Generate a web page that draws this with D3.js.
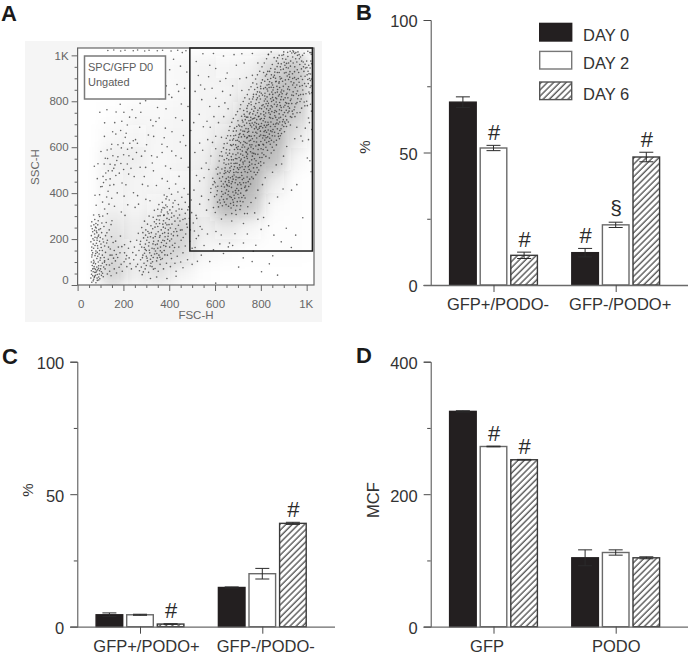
<!DOCTYPE html>
<html><head><meta charset="utf-8">
<script src="https://cdn.jsdelivr.net/npm/d3@7"></script>
<style>html,body{margin:0;padding:0;background:#fff}svg{display:block}text{font-family:"Liberation Sans",Arial,sans-serif}</style>
</head><body><svg id="c" width="689" height="657"></svg>
<script>
// ---- bar panels ----
const days = ["DAY 0","DAY 2","DAY 6"];
const groupsB = ["GFP+/PODO-","GFP-/PODO+"];
const valuesB = [[69,51.7,11.2],[12.2,22.7,48.3]];
const errorsB = [[2,1,1.2],[1.6,1,1.8]];
const marksB  = [["","#","#"],["#","§","#"]];
const groupsC = ["GFP+/PODO+","GFP-/PODO-"];
const valuesC = [[4.5,4.5,1],[14.8,20,39]];
const errorsC = [[0.7,0.2,0.1],[0.2,2,0.4]];
const marksC  = [["","","#"],["","","#"]];
const groupsD = ["GFP","PODO"];
const valuesD = [[325,272,252],[104,112,104]];
const errorsD = [[1,0.5,0.5],[12,4,1.5]];
const marksD  = [["","#","#"],["","",""]];
const ticksPct = [0,50,100], minorPct = [25,75];
const ticksMcf = [0,200,400], minorMcf = [100,300];
// ---- panel A: hand-estimated subset of the flow-cytometry events [FSC, SSC] ----
const lowLeftEvents = [[62,12],[70,25],[66,40],[75,55],[85,30],[95,48],[60,62],[72,72],[88,66],[104,58],[112,36],[120,70],[64,85],[78,92],[92,84],[108,95],[126,88],[140,60],[70,108],[84,115],[98,108],[62,122],[116,120],[134,112],[150,95],[160,70],[66,140],[80,148],[94,135],[108,150],[122,142],[142,130],[175,120],[190,90],[62,165],[76,172],[88,160],[102,178],[118,170],[135,165],[160,150],[205,140],[58,188],[72,195],[85,205],[96,190],[110,200],[130,195],[155,185],[225,118],[60,215],[74,222],[82,235],[92,218],[105,228],[122,215],[148,210],[178,165],[64,245],[78,252],[88,262],[100,245],[115,255],[138,240],[62,275],[75,285],[90,280],[106,270],[125,272],[68,18],[80,10],[92,22],[74,38],[86,46],[100,70],[68,58],[78,68],[84,78],[96,62],[72,80],[60,100],[90,100],[102,84],[114,78],[130,48],[146,40],[170,52],[195,60],[215,80],[235,70],[165,105],[185,140],[205,175],[222,160],[245,110],[255,80],[150,130],[118,105],[76,128],[88,125],[70,160],[82,182],[76,208],[90,212],[84,228],[66,232],[96,150],[108,130],[66,70],[80,55],[92,35],[104,42],[78,42],[86,20],[58,30],[72,100],[86,142],[62,150],[74,238],[80,268],[96,298],[70,305],[110,300],[130,310],[150,280],[85,195],[68,178],[100,118],[73,33],[97,27],[61,47],[83,61],[109,51],[69,95],[91,73],[117,99],[63,131],[79,137],[103,163],[87,171],[67,201],[99,207],[81,248],[71,262],[127,183],[143,157],[169,133],[193,167],[211,113],[139,87],[157,117],[181,77],[203,101],[229,93],[241,141],[59,257],[93,241],[113,187],[128,227],[146,263],[166,191],[187,213],[214,128],[231,189]];
const midEvents = [[270,62],[282,45],[295,70],[310,55],[325,80],[290,95],[305,105],[320,95],[338,72],[352,60],[275,110],[285,130],[300,125],[315,140],[330,120],[345,105],[360,90],[375,70],[268,150],[280,165],[295,155],[310,170],[325,160],[340,148],[355,130],[370,115],[388,95],[405,80],[275,190],[288,205],[302,195],[318,210],[332,190],[348,178],[362,165],[378,150],[392,130],[410,115],[425,95],[285,228],[298,240],[312,225],[328,245],[342,222],[358,208],[372,195],[388,182],[402,165],[418,148],[435,125],[450,100],[305,265],[320,258],[335,275],[350,255],[365,240],[380,228],[395,212],[410,200],[425,182],[442,165],[460,140],[330,295],[345,285],[360,302],[375,280],[390,262],[405,248],[420,232],[436,215],[452,195],[470,170],[350,330],[365,318],[380,335],[395,310],[410,295],[425,278],[440,260],[456,240],[472,222],[490,190],[370,360],[385,348],[400,370],[415,340],[430,322],[445,305],[460,285],[476,265],[492,240],[390,385],[410,395],[425,368],[440,350],[455,330],[470,312],[488,290],[438,405],[455,382],[470,360],[485,340],[498,315],[465,420],[482,395],[496,370],[300,85],[318,112],[336,135],[350,160],[366,185],[382,210],[396,240],[374,252],[352,232],[330,205],[312,185],[296,178],[340,175],[360,215],[384,270],[400,285],[378,305],[390,290],[392,318],[372,265],[358,268],[338,252],[322,228],[306,208],[292,138],[348,118],[368,142],[385,168],[402,192],[418,215],[428,245],[412,265],[396,225],[376,172],[352,192],[334,158],[322,128],[300,150],[278,78],[262,90],[255,130],[248,165],[258,195],[265,225],[280,250],[292,278],[312,300],[335,325],[355,350],[378,392],[400,420],[428,440],[505,270],[520,290],[535,255],[510,235],[528,215],[500,160],[480,110],[460,75],[430,60],[500,90],[540,130],[390,28],[430,38],[345,35],[318,28],[303,117],[327,101],[291,163],[346,137],[317,83],[363,111],[381,131],[339,211],[307,233],[371,224],[393,199],[414,173],[357,283],[383,247],[409,222],[367,327],[391,341],[376,303],[421,301],[403,327],[447,279],[433,233],[461,207],[417,357],[386,375],[443,331],[469,289],[399,263],[351,301],[329,179],[313,151],[283,119],[297,217],[273,177],[343,267],[361,149],[379,193],[407,137],[331,69],[287,57],[359,121],[423,163],[449,239],[411,313],[437,292],[479,251],[481,327],[373,337]];
const upperLeftEvents = [[93,306],[118,331],[137,352],[81,347],[109,361],[127,383],[149,378],[161,343],[191,318],[207,303],[76,391],[101,428],[113,446],[133,408],[158,437],[173,401],[203,387],[219,349],[251,338],[266,352],[86,463],[111,473],[124,458],[151,497],[167,477],[194,444],[211,436],[244,402],[262,389],[298,373],[316,367],[73,517],[89,528],[116,527],[131,551],[158,508],[171,542],[201,503],[223,483],[247,472],[283,438],[307,431],[344,433],[102,581],[129,588],[146,592],[176,558],[191,597],[224,563],[241,548],[273,513],[297,512],[331,497],[369,463],[392,452],[117,647],[149,613],[167,657],[199,618],[212,661],[243,628],[261,617],[294,583],[323,563],[347,557],[384,518],[406,507],[443,473],[97,752],[128,763],[162,707],[193,713],[217,697],[254,728],[271,687],[309,653],[332,647],[368,613],[391,602],[429,563],[452,552],[483,513],[168,753],[202,752],[238,763],[276,752],[319,718],[342,712],[383,683],[412,667],[448,623],[472,607],[297,802],[349,773],[386,767],[428,728],[457,717],[494,673],[411,817],[453,788],[482,777],[387,867],[434,873],[467,857],[402,937],[449,953],[477,927],[419,983],[457,1012],[132,1021],[158,1023],[188,1019],[207,1022],[243,1020],[262,1023],[293,1019],[312,1022],[348,1020],[371,1022],[408,1019],[437,1022],[473,1020],[253,633],[228,617],[201,567],[237,597],[182,487],[163,523],[142,462],[123,488],[233,508],[257,577],[208,643],[188,673],[153,667],[121,552],[107,429],[142,526],[176,611],[218,591],[189,529],[154,563],[134,497],[96,393],[141,434],[217,527],[279,561],[301,611],[329,693],[356,727],[273,791],[227,731],[186,787],[118,706],[356,811],[399,829],[441,843],[378,641],[411,583],[462,651],[326,531],[291,472],[369,577]];
const mainEvents = [[620,370],[635,395],[650,415],[665,385],[680,360],[695,345],[710,365],[725,390],[610,410],[628,430],[645,450],[662,430],[678,405],[695,420],[712,400],[730,425],[745,450],[600,445],[620,465],[640,485],[658,470],[675,450],[692,470],[708,445],[725,465],[742,490],[760,470],[630,505],[648,525],[665,510],[682,490],[698,510],[715,490],[732,515],[750,535],[768,510],[785,490],[640,545],[655,565],[672,545],[690,530],[705,555],[722,535],[738,560],[755,580],[772,550],[790,530],[805,555],[650,590],[668,610],[685,590],[700,575],[718,600],[735,580],[752,610],[770,625],[788,590],[805,575],[822,600],[665,630],[682,650],[698,630],[715,645],[732,620],[748,650],[765,665],[782,640],[800,625],[818,650],[835,625],[850,600],[680,670],[695,690],[712,675],[728,695],[745,680],[762,705],[780,685],[798,670],[815,695],[832,675],[850,650],[868,630],[700,715],[716,735],[732,720],[750,745],[768,725],[785,750],[802,725],[820,710],[838,730],[855,700],[872,680],[885,650],[725,760],[742,780],[760,765],[778,790],[795,770],[812,755],[830,780],[848,755],[865,730],[882,710],[900,690],[750,810],[768,830],[785,815],[802,835],[820,810],[838,830],[855,805],[872,785],[890,760],[908,735],[920,710],[785,860],[802,880],[820,860],[838,885],[855,860],[872,840],[890,820],[908,795],[925,770],[940,745],[820,910],[838,930],[855,905],[872,925],[890,900],[908,875],[925,850],[942,825],[958,795],[850,960],[868,975],[885,950],[902,970],[920,945],[938,920],[955,895],[970,865],[985,830],[880,1000],[900,1015],[918,995],[935,1010],[952,985],[970,960],[988,930],[1005,895],[1015,860],[940,1020],[962,1015],[982,1000],[1000,975],[1015,945],[1020,1005],[1005,1018],[645,400],[660,455],[672,425],[688,445],[700,395],[715,420],[735,445],[655,495],[670,530],[685,515],[700,490],[718,515],[730,540],[745,515],[760,545],[775,525],[660,545],[678,570],[695,550],[712,570],[728,555],[745,595],[762,575],[778,605],[795,555],[810,590],[690,610],[705,625],[722,610],[738,640],[755,630],[772,650],[790,610],[808,640],[825,620],[705,655],[722,670],[738,705],[755,695],[772,680],[790,700],[808,685],[825,665],[842,690],[860,665],[730,735],[748,715],[765,745],[782,720],[800,745],[818,735],[835,750],[852,725],[870,705],[888,680],[758,785],[775,770],[792,795],[810,785],[828,800],[845,780],[862,760],[880,745],[898,720],[795,840],[812,855],[830,845],[848,840],[865,815],[882,795],[900,775],[918,750],[830,895],[848,880],[865,885],[882,860],[900,845],[918,815],[935,790],[862,940],[880,925],[898,940],[915,910],[932,885],[950,860],[965,825],[895,985],[912,965],[930,975],[948,950],[965,925],[982,895],[998,865],[960,1000],[978,975],[995,945],[1010,920],[1018,975],[628,385],[652,375],[668,355],[686,378],[704,380],[722,362],[612,430],[636,440],[654,432],[676,472],[692,492],[708,468],[724,445],[622,488],[644,510],[662,490],[680,545],[696,530],[714,548],[740,470],[756,495],[648,575],[664,588],[680,612],[694,598],[710,590],[726,625],[742,570],[758,648],[776,570],[794,648],[812,610],[668,650],[690,652],[708,692],[724,655],[742,665],[760,688],[778,665],[796,690],[814,668],[830,645],[846,630],[722,710],[740,755],[756,730],[774,708],[792,735],[810,715],[826,695],[844,710],[862,690],[876,660],[748,790],[764,810],[780,830],[798,810],[816,775],[834,760],[850,775],[868,755],[886,730],[904,710],[782,875],[800,855],[818,835],[836,860],[852,830],[870,865],[888,840],[906,815],[922,790],[812,925],[830,930],[846,915],[864,900],[880,885],[898,865],[914,835],[932,810],[948,775],[858,990],[876,965],[892,1000],[910,925],[926,905],[944,880],[960,845],[976,810],[992,780],[928,1018],[948,1008],[968,985],[986,950],[1002,915],[1016,890],[1010,840],[1000,800],[978,770],[958,750],[935,730],[912,690],[890,660],[868,610],[845,575],[822,560],[800,520],[778,480],[755,440],[735,410],[712,345],[690,325],[670,335],[648,350],[632,345],[615,340],[598,385],[582,420],[590,465],[605,505],[618,540],[628,580],[640,615],[655,650],[665,690],[680,725],[698,755],[712,785],[730,815],[748,850],[765,880],[785,915],[805,950],[825,985],[845,1015]];
const mainExtraEvents = [[637,372],[659,408],[683,391],[703,411],[671,441],[649,463],[627,452],[691,458],[717,477],[733,431],[681,503],[659,527],[639,531],[707,523],[727,503],[749,503],[691,567],[671,559],[711,541],[737,577],[761,527],[783,511],[653,617],[677,631],[703,643],[729,601],[749,627],[767,593],[787,569],[813,567],[693,671],[717,689],[741,643],[763,637],[783,661],[809,613],[829,587],[841,613],[735,681],[751,703],[773,727],[793,683],[819,673],[837,657],[857,623],[877,647],[727,743],[743,731],[769,757],[789,733],[813,741],[831,709],[853,677],[871,719],[893,697],[757,797],[781,807],[803,767],[823,789],[841,743],[859,787],[881,763],[907,703],[773,851],[793,823],[817,823],[843,811],[867,797],[889,773],[911,761],[929,733],[807,893],[827,871],[851,871],[877,823],[893,833],[913,791],[937,757],[843,943],[859,913],[883,907],[907,893],[921,863],[941,841],[961,811],[873,989],[889,963],[909,983],[927,929],[947,903],[967,883],[983,849],[917,1013],[939,993],[957,971],[977,941],[993,909],[1007,877],[989,1009],[1009,957],[1017,919],[701,467],[683,479],[667,497],[719,459],[751,461],[771,491],[647,489],[633,471],[611,483],[603,427],[591,437],[641,427],[667,467],[699,437],[739,413],[689,411],[657,393],[677,371],[697,363],[717,381],[629,407],[651,437],[703,503],[723,527],[741,551],[763,561],[779,541],[799,537],[683,529],[663,573],[651,551],[631,561],[699,591],[719,583],[739,617],[757,601],[781,623],[801,593],[817,631],[673,607],[691,629],[711,619],[729,647],[747,669],[769,697],[787,677],[803,703],[821,687],[839,639],[685,683],[703,697],[719,717],[737,731],[755,717],[777,739],[797,721],[815,725],[833,699],[849,667],[865,701],[883,673],[739,769],[753,751],[771,777],[787,761],[805,781],[825,767],[843,727],[861,737],[879,727],[897,741],[913,719],[767,819],[785,841],[807,827],[827,819],[847,799],[869,777],[887,807],[905,783],[923,757],[799,865],[817,887],[835,873],[853,849],[873,851],[891,849],[911,829],[929,803],[945,763],[825,917],[843,899],[861,927],[879,879],[895,887],[917,853],[935,827],[953,789],[871,951],[887,937],[905,957],[923,917],[939,899],[957,871],[973,829],[989,797],[899,1003],[921,967],[941,967],[959,937],[975,909],[991,877],[1013,833],[953,1012],[973,993],[993,961],[1006,931],[1014,1012],[1019,867],[1003,781],[971,751],[949,733],[929,697],[903,667],[881,637],[857,587],[837,553],[813,531],[791,501],[767,463],[747,429],[731,379],[709,329],[681,347],[659,343],[641,361],[623,357],[607,393],[597,451],[613,513],[621,563],[637,597],[649,639],[661,673],[673,709],[691,741],[709,767],[723,799],[741,829],[757,863],[777,897],[795,931],[815,967],[833,1003],[671,381],[691,401],[713,437],[661,447],[679,461],[643,497],[671,517],[689,551],[709,511],[731,493],[751,521],[769,573],[793,609],[811,651],[751,649],[729,669],[709,659],[681,637],[701,603],[721,565],[741,589],[761,611],[779,691],[799,653],[823,641],[843,671],[861,649],[763,723],[781,703],[801,691],[821,749],[841,767],[859,751],[877,701],[895,711],[815,801],[833,791],[851,817],[869,811],[885,781],[903,751],[827,853],[845,861],[863,837],[881,829],[899,807],[919,777],[867,887],[885,897],[903,923],[921,895],[939,871],[955,833],[971,799],[911,947],[929,953],[947,929],[963,899],[981,869],[997,833],[943,1015],[967,1003],[985,971],[1001,947],[1012,899]];
const gateSparseEvents = [[517,303],[533,352],[541,387],[563,326],[572,371],[593,337],[601,316],[628,287],[647,306],[673,279],[692,307],[724,268],[741,311],[773,314],[787,286],[812,294],[837,356],[873,383],[897,418],[934,413],[957,437],[983,293],[952,217],[933,163],[911,247],[889,188],[857,217],[834,258],[801,242],[778,173],[741,222],[724,183],[687,223],[663,183],[627,218],[604,233],[567,222],[543,243],[518,202],[513,163],[552,172],[593,153],[621,179],[658,166],[677,172],[508,413],[519,477],[541,508],[552,467],[573,503],[582,562],[603,593],[512,577],[533,618],[546,587],[568,633],[579,687],[603,648],[615,707],[638,733],[507,707],[531,743],[542,807],[565,713],[577,777],[603,813],[617,777],[643,793],[657,767],[513,843],[527,912],[555,853],[572,907],[603,943],[622,887],[653,923],[677,867],[708,898],[727,967],[518,973],[547,1007],[593,1008],[637,997],[683,1003],[717,1007],[763,1008],[787,967],[833,1005],[628,643],[717,847],[763,913],[1008,633],[1012,707],[1003,553],[982,627],[1017,787],[957,687],[1019,1012],[1021,963],[1021,897],[1022,837],[1021,757],[1022,677],[637,137],[523,103],[577,102],[703,78],[762,102],[803,58],[837,92],[873,43],[852,127],[767,147],[723,118],[603,8],[533,453],[561,531],[549,689],[589,621],[595,733],[537,871],[587,857],[633,843],[667,827],[647,899],[693,957],[577,957],[737,903],[1014,541],[1019,493],[1008,727],[994,683],[975,649],[948,637],[913,603],[899,561],[891,527],[867,523],[851,491],[819,467],[807,437],[787,413],[777,379],[757,359],[743,341],[729,311],[673,311],[611,361],[581,403]];
// darkness of the dot cloud per 100x100 cell; rows SSC 0-100 upward, columns FSC 0-100 rightward
const densityBins = [100,200,300,400,500,600,700,800,900,1000];
const densityRow0 = [0,.25,.07,.15,.05,.01,0,0,0,0];
const densityRow1 = [0,.22,.08,.25,.2,.04,.02,.01,.01,.01];
const densityRow2 = [0,.15,.07,.14,.25,.07,.12,.06,.01,.01];
const densityRow3 = [0,.08,.04,.08,.1,.1,.4,.3,.02,.01];
const densityRow4 = [0,.08,.05,.04,.06,.1,.38,.42,.12,.01];
const densityRow5 = [0,.07,.07,.03,.05,.07,.25,.42,.35,.04];
const densityRow6 = [0,.03,.06,.04,.05,.05,.15,.38,.42,.15];
const densityRow7 = [0,.01,.03,.03,.04,.05,.07,.25,.38,.28];
const densityRow8 = [0,0,0,.01,.03,.05,.05,.12,.3,.35];
const densityRow9 = [0,0,.01,.02,.03,.05,.06,.08,.2,.32];
const majorTicksA = [0,200,400,600,800,1000];
const minorTicksA = [50,100,150,250,300,350,450,500,550,650,700,750,850,900,950];
const tickLabel = d => d === 1000 ? "1K" : String(d);

const svg = d3.select("#c");
const ink = "#2b2b2b", axisGrey = "#4a4a4a";
const defs = svg.append("defs");
const pat = defs.append("pattern").attr("id","hatch").attr("patternUnits","userSpaceOnUse")
  .attr("width",4.4).attr("height",4.4).attr("patternTransform","rotate(45)");
pat.append("rect").attr("width",4.4).attr("height",4.4).attr("fill","#fff");
pat.append("line").attr("x1",1).attr("x2",1).attr("y1",0).attr("y2",4.4).attr("stroke","#2b2b2b").attr("stroke-width",1.1);
defs.append("filter").attr("id","soft").attr("x","-5%").attr("y","-5%").attr("width","110%").attr("height","110%")
  .append("feGaussianBlur").attr("stdDeviation",0.3);
defs.append("filter").attr("id","cloud").attr("filterUnits","userSpaceOnUse").attr("x",60).attr("y",30).attr("width",280).attr("height",280)
  .append("feGaussianBlur").attr("stdDeviation",7);

const letters = [["A",1,21],["B",356,20],["C",2,364],["D",356,363]];
svg.selectAll("text.letter").data(letters).join("text").attr("class","letter")
  .attr("x",d=>d[1]).attr("y",d=>d[2]).text(d=>d[0])
  .attr("font-size",22).attr("font-weight","bold").attr("fill","#1a1a1a");

// ---- panel A ----
(function(){
  const g = svg.append("g");
  g.append("rect").attr("x",25).attr("y",41).attr("width",297).attr("height",281).attr("fill","#f5f5f5");
  const x = d3.scaleLinear().domain([0,1032]).range([77.6,314]);
  const y = d3.scaleLinear().domain([0,1032]).range([285,48]);
  g.append("clipPath").attr("id","plot").append("rect").attr("x",x(0)).attr("y",y(1032)).attr("width",x(1032)-x(0)).attr("height",y(0)-y(1032));
  g.append("rect").attr("x",x(0)).attr("y",y(1032)).attr("width",x(1032)-x(0)).attr("height",y(0)-y(1032))
    .attr("fill","#fff").attr("stroke","#666").attr("stroke-width",1.2);
  const rows = [densityRow0,densityRow1,densityRow2,densityRow3,densityRow4,densityRow5,densityRow6,densityRow7,densityRow8,densityRow9];
  const cloud = g.append("g").attr("clip-path","url(#plot)").append("g").attr("filter","url(#cloud)");
  rows.forEach((row,r)=>row.forEach((v,c)=>{
    cloud.append("rect").attr("x",x(densityBins[c]-100)).attr("y",y(densityBins[r]))
      .attr("width",x(100)-x(0)+0.5).attr("height",y(0)-y(100)+0.5).attr("fill","#333").attr("fill-opacity",v*0.9);
  }));
  const events = [...lowLeftEvents,...midEvents,...upperLeftEvents,...mainEvents,...mainExtraEvents,...gateSparseEvents];
  g.append("g").attr("filter","url(#soft)").selectAll("circle").data(events).join("circle")
    .attr("cx",d=>x(d[0])).attr("cy",d=>y(d[1])).attr("r",0.8).attr("fill","#222").attr("fill-opacity",0.7);
  const col = "#666";
  const ax = d3.axisBottom(x).tickValues(majorTicksA).tickSize(6).tickFormat(tickLabel);
  const ay = d3.axisLeft(y).tickValues(majorTicksA).tickSize(6).tickFormat(tickLabel);
  const axg = g.append("g").attr("transform","translate(0,285)").call(ax);
  const ayg = g.append("g").attr("transform",`translate(${x(0)},0)`).call(ay);
  g.append("g").attr("transform","translate(0,285)").call(d3.axisBottom(x).tickValues(minorTicksA).tickSize(3).tickFormat("")).select(".domain").remove();
  g.append("g").attr("transform",`translate(${x(0)},0)`).call(d3.axisLeft(y).tickValues(minorTicksA).tickSize(3).tickFormat("")).select(".domain").remove();
  g.selectAll(".domain").remove();
  g.selectAll(".tick line").attr("stroke",col);
  axg.selectAll("text").attr("font-size",11.5).attr("fill",col).attr("font-family","Liberation Sans").attr("dy",null).attr("y",23);
  ayg.selectAll("text").attr("font-size",11.5).attr("fill",col).attr("font-family","Liberation Sans").attr("dx",0);
  axg.selectAll(".tick").filter(d=>d===0).select("text").attr("dx",3);
  axg.selectAll(".tick").filter(d=>d===1000).select("text").attr("dx",-1);
  ayg.selectAll(".tick").filter(d=>d===0).select("text").attr("dy","-0.1em");
  g.append("rect").attr("x",x(490)).attr("y",y(1032)).attr("width",x(1025)-x(490)).attr("height",y(148)-y(1032))
    .attr("fill","none").attr("stroke","#1c1c1c").attr("stroke-width",1.5);
  g.append("rect").attr("x",84.5).attr("y",56).attr("width",81).attr("height",43).attr("fill","#fff").attr("stroke","#7a7a7a").attr("stroke-width",1.5);
  g.append("text").attr("x",88).attr("y",71).text("SPC/GFP D0").attr("font-size",11).attr("fill","#5c5c5c");
  g.append("text").attr("x",88).attr("y",86).text("Ungated").attr("font-size",11).attr("fill","#5c5c5c");
  g.append("text").attr("x",196).attr("y",319).attr("text-anchor","middle").text("FSC-H").attr("font-size",11.5).attr("fill",col);
  g.append("text").attr("transform","translate(39,167) rotate(-90)").attr("text-anchor","middle").text("SSC-H").attr("font-size",11.5).attr("fill",col);
})();

// ---- bar panels ----
function barPanel(o){
  const g = svg.append("g");
  const y = d3.scaleLinear().domain(o.domain).range([o.y0,o.y1]);
  const x0 = d3.scalePoint().domain(o.groups).range(o.centers);
  const x1 = d3.scaleBand().domain(days).range([-44.6,44.6]).paddingInner(0.085);
  const fills = ["#231f20","#fff","url(#hatch)"], strokes=["#231f20","#6a6a6a","#3a3a3a"];
  o.groups.forEach((gr,i)=>{
    days.forEach((day,j)=>{
      const bx = x0(gr)+x1(day), w = x1.bandwidth(), v=o.values[i][j], e=o.errors[i][j], cx=bx+w/2;
      g.append("rect").attr("x",bx+0.7).attr("y",y(v)).attr("width",w-1.4).attr("height",y(0)-y(v))
        .attr("fill",fills[j]).attr("stroke",strokes[j]).attr("stroke-width",1.4);
      const eb = g.append("g").attr("stroke","#2b2b2b").attr("stroke-width",1).attr("fill","none");
      eb.append("line").attr("x1",cx).attr("x2",cx).attr("y1",y(v+e)).attr("y2",y(v-e));
      [v+e,v-e].forEach(t=>eb.append("line").attr("x1",cx-7).attr("x2",cx+7).attr("y1",y(t)).attr("y2",y(t)));
      const m=o.marks[i][j];
      if(m) g.append("text").attr("x",cx+0.5).attr("y",y(v+e)-(m==="§"?7:5.5)).attr("text-anchor","middle")
        .text(m).attr("font-size",m==="§"?21:22).attr("fill",ink);
    });
  });
  const ay = d3.axisLeft(y).tickValues(o.ticks).tickSize(7).tickPadding(6).tickFormat(d3.format("d"));
  const ag = g.append("g").attr("transform",`translate(${o.axisX},0)`).call(ay);
  ag.selectAll("text").attr("font-size",16.5).attr("fill","#333").attr("font-family","Liberation Sans").attr("dy","0.42em");
  const am = g.append("g").attr("transform",`translate(${o.axisX},0)`).call(d3.axisLeft(y).tickValues(o.minor).tickSize(3.5).tickFormat(""));
  am.select(".domain").remove();
  g.selectAll(".domain").attr("stroke",axisGrey);
  g.selectAll(".tick line").attr("stroke",axisGrey);
  const ax = d3.axisBottom(x0).tickSize(7).tickPadding(0).tickSizeOuter(0);
  const bg = g.append("g").attr("transform",`translate(0,${o.y0})`).call(ax);
  bg.select(".domain").attr("d",`M${o.axisX-7},0.5H${o.axisEnd}`).attr("stroke","#6a6a6a").attr("stroke-width",1.3);
  bg.selectAll(".tick line").attr("stroke",axisGrey);
  bg.selectAll("text").attr("font-size",16.5).attr("fill","#333").attr("font-family","Liberation Sans")
    .attr("y",25).attr("dy",0).attr("dx",(d,i)=>o.labelDx[i]);
  g.append("text").attr("transform",`translate(${o.titleX},${o.titleY}) rotate(-90)`).attr("text-anchor","middle")
    .text(o.title).attr("font-size",o.title==="%"?15:16.5).attr("fill","#333");
}
barPanel({groups:groupsB,values:valuesB,errors:errorsB,marks:marksB,domain:[0,100],y0:285,y1:20,axisX:430.7,axisEnd:688,centers:[493.5,615.7],ticks:ticksPct,minor:minorPct,title:"%",titleX:370,titleY:147,labelDx:[4,4]});
barPanel({groups:groupsC,values:valuesC,errors:errorsC,marks:marksC,domain:[0,100],y0:626.7,y1:361.7,axisX:77.3,axisEnd:335,centers:[140,262.3],ticks:ticksPct,minor:minorPct,title:"%",titleX:33,titleY:490,labelDx:[6,3]});
barPanel({groups:groupsD,values:valuesD,errors:errorsD,marks:marksD,domain:[0,400],y0:626.7,y1:361.7,axisX:430.7,axisEnd:688,centers:[493.5,615.7],ticks:ticksMcf,minor:minorMcf,title:"MCF",titleX:379,titleY:500,labelDx:[-7,0]});

// ---- legend ----
const legendY = [22.7,50.7,81.3];
const legend = svg.append("g");
days.forEach((d,i)=>{
  legend.append("rect").attr("x",539.7).attr("y",legendY[i]+0.7).attr("width",32).attr("height",17.6)
    .attr("fill",["#231f20","#fff","url(#hatch)"][i]).attr("stroke",["#231f20","#777","#555"][i]).attr("stroke-width",1.4);
  legend.append("text").attr("x",583).attr("y",legendY[i]+[18,18.5,19][i]).text(d).attr("font-size",16.5).attr("fill","#333");
});
</script></body></html>
